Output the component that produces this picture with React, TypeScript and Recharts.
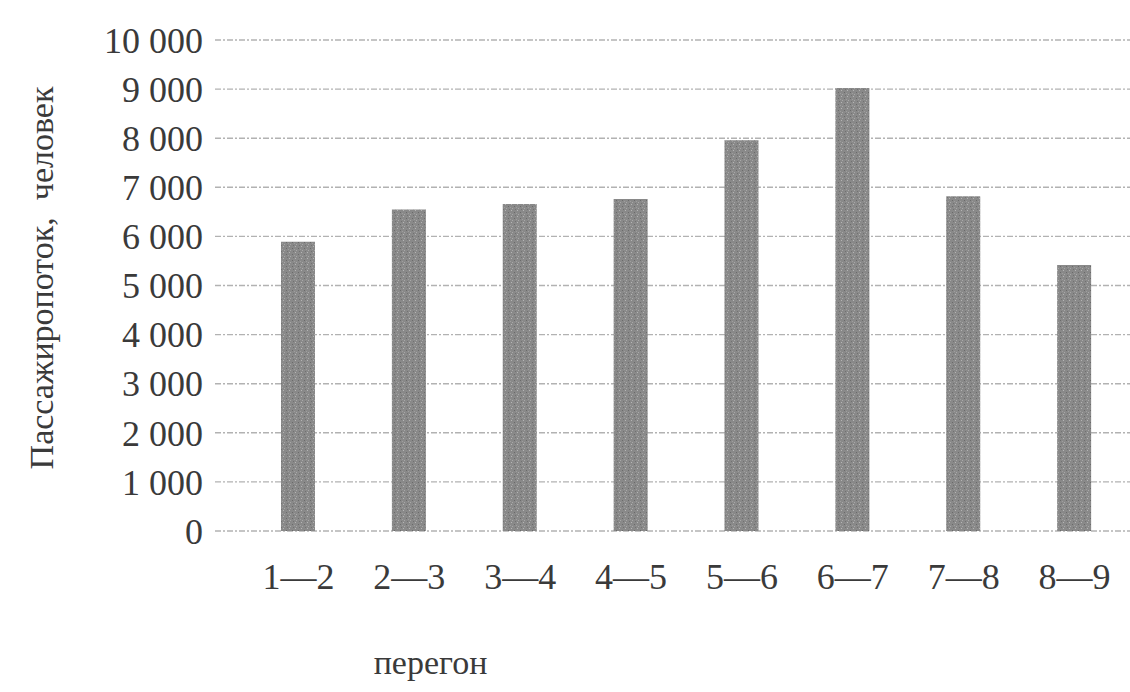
import React from 'react';
import { BarChart, Bar, XAxis, YAxis, CartesianGrid, Label } from 'recharts';

// перегоны (stretches between stops)
const stretches = ['1—2', '2—3', '3—4', '4—5', '5—6', '6—7', '7—8', '8—9'];
// passengers on each stretch
const passengers = [5890, 6550, 6660, 6760, 7960, 9020, 6820, 5420];
const yTicks = [0, 1000, 2000, 3000, 4000, 5000, 6000, 7000, 8000, 9000, 10000];

const data = stretches.map((name, i) => ({ name, value: passengers[i] }));

const FONT = '"Liberation Serif", "Times New Roman", serif';
const TEXT = '#3a3a3a';

// "10000" -> "10 000"
const fmt = (v: number) => String(v).replace(/\B(?=(\d{3})+(?!\d))/g, ' ');

export default function App() {
  return (
    <div style={{ position: 'absolute', left: 0, top: 0, background: '#fff' }}>
      <BarChart
        width={1130}
        height={692}
        data={data}
        margin={{ top: 40, right: 0, bottom: 0, left: 0 }}
      >
        <defs>
          <pattern id="grain" width="6" height="6" patternUnits="userSpaceOnUse">
            <rect width="6" height="6" fill="#898989" />
            <rect x="1" y="0" width="1" height="1" fill="#b5b5b5" />
            <rect x="4" y="2" width="1" height="1" fill="#6a6a6a" />
            <rect x="2" y="4" width="1" height="1" fill="#a8a8a8" />
            <rect x="5" y="5" width="1" height="1" fill="#727272" />
            <rect x="0" y="3" width="1" height="1" fill="#9e9e9e" />
          </pattern>
        </defs>
        <CartesianGrid
          vertical={false}
          stroke="#b2b2b2"
          strokeDasharray="6 2 2 2"
          strokeWidth={1.4}
        />
        <XAxis
          dataKey="name"
          axisLine={false}
          tickLine={false}
          tickSize={0}
          tickMargin={32}
          height={161}
          padding={{ left: 28, right: 0 }}
          interval={0}
          tick={{ fontFamily: FONT, fontSize: 36, fill: TEXT }}
        >
          <Label
            value="перегон"
            position="insideBottom"
            offset={18}
            dx={-242}
            style={{ fontFamily: FONT, fontSize: 34, fill: TEXT }}
          />
        </XAxis>
        <YAxis
          domain={[0, 10000]}
          ticks={yTicks}
          interval={0}
          width={215}
          axisLine={false}
          tickLine={false}
          tickSize={0}
          tickMargin={12}
          tickFormatter={fmt}
          tick={{ fontFamily: FONT, fontSize: 36, fill: TEXT }}
        >
          <Label
            content={() => (
              <text
                x={53}
                y={278}
                transform="rotate(-90, 53, 278)"
                textAnchor="middle"
                style={{ fontFamily: FONT, fontSize: 34, fill: TEXT, whiteSpace: 'pre' }}
              >
                Пассажиропоток,  человек
              </text>
            )}
          />
        </YAxis>
        <Bar dataKey="value" fill="url(#grain)" barSize={34} isAnimationActive={false} />
      </BarChart>
    </div>
  );
}
